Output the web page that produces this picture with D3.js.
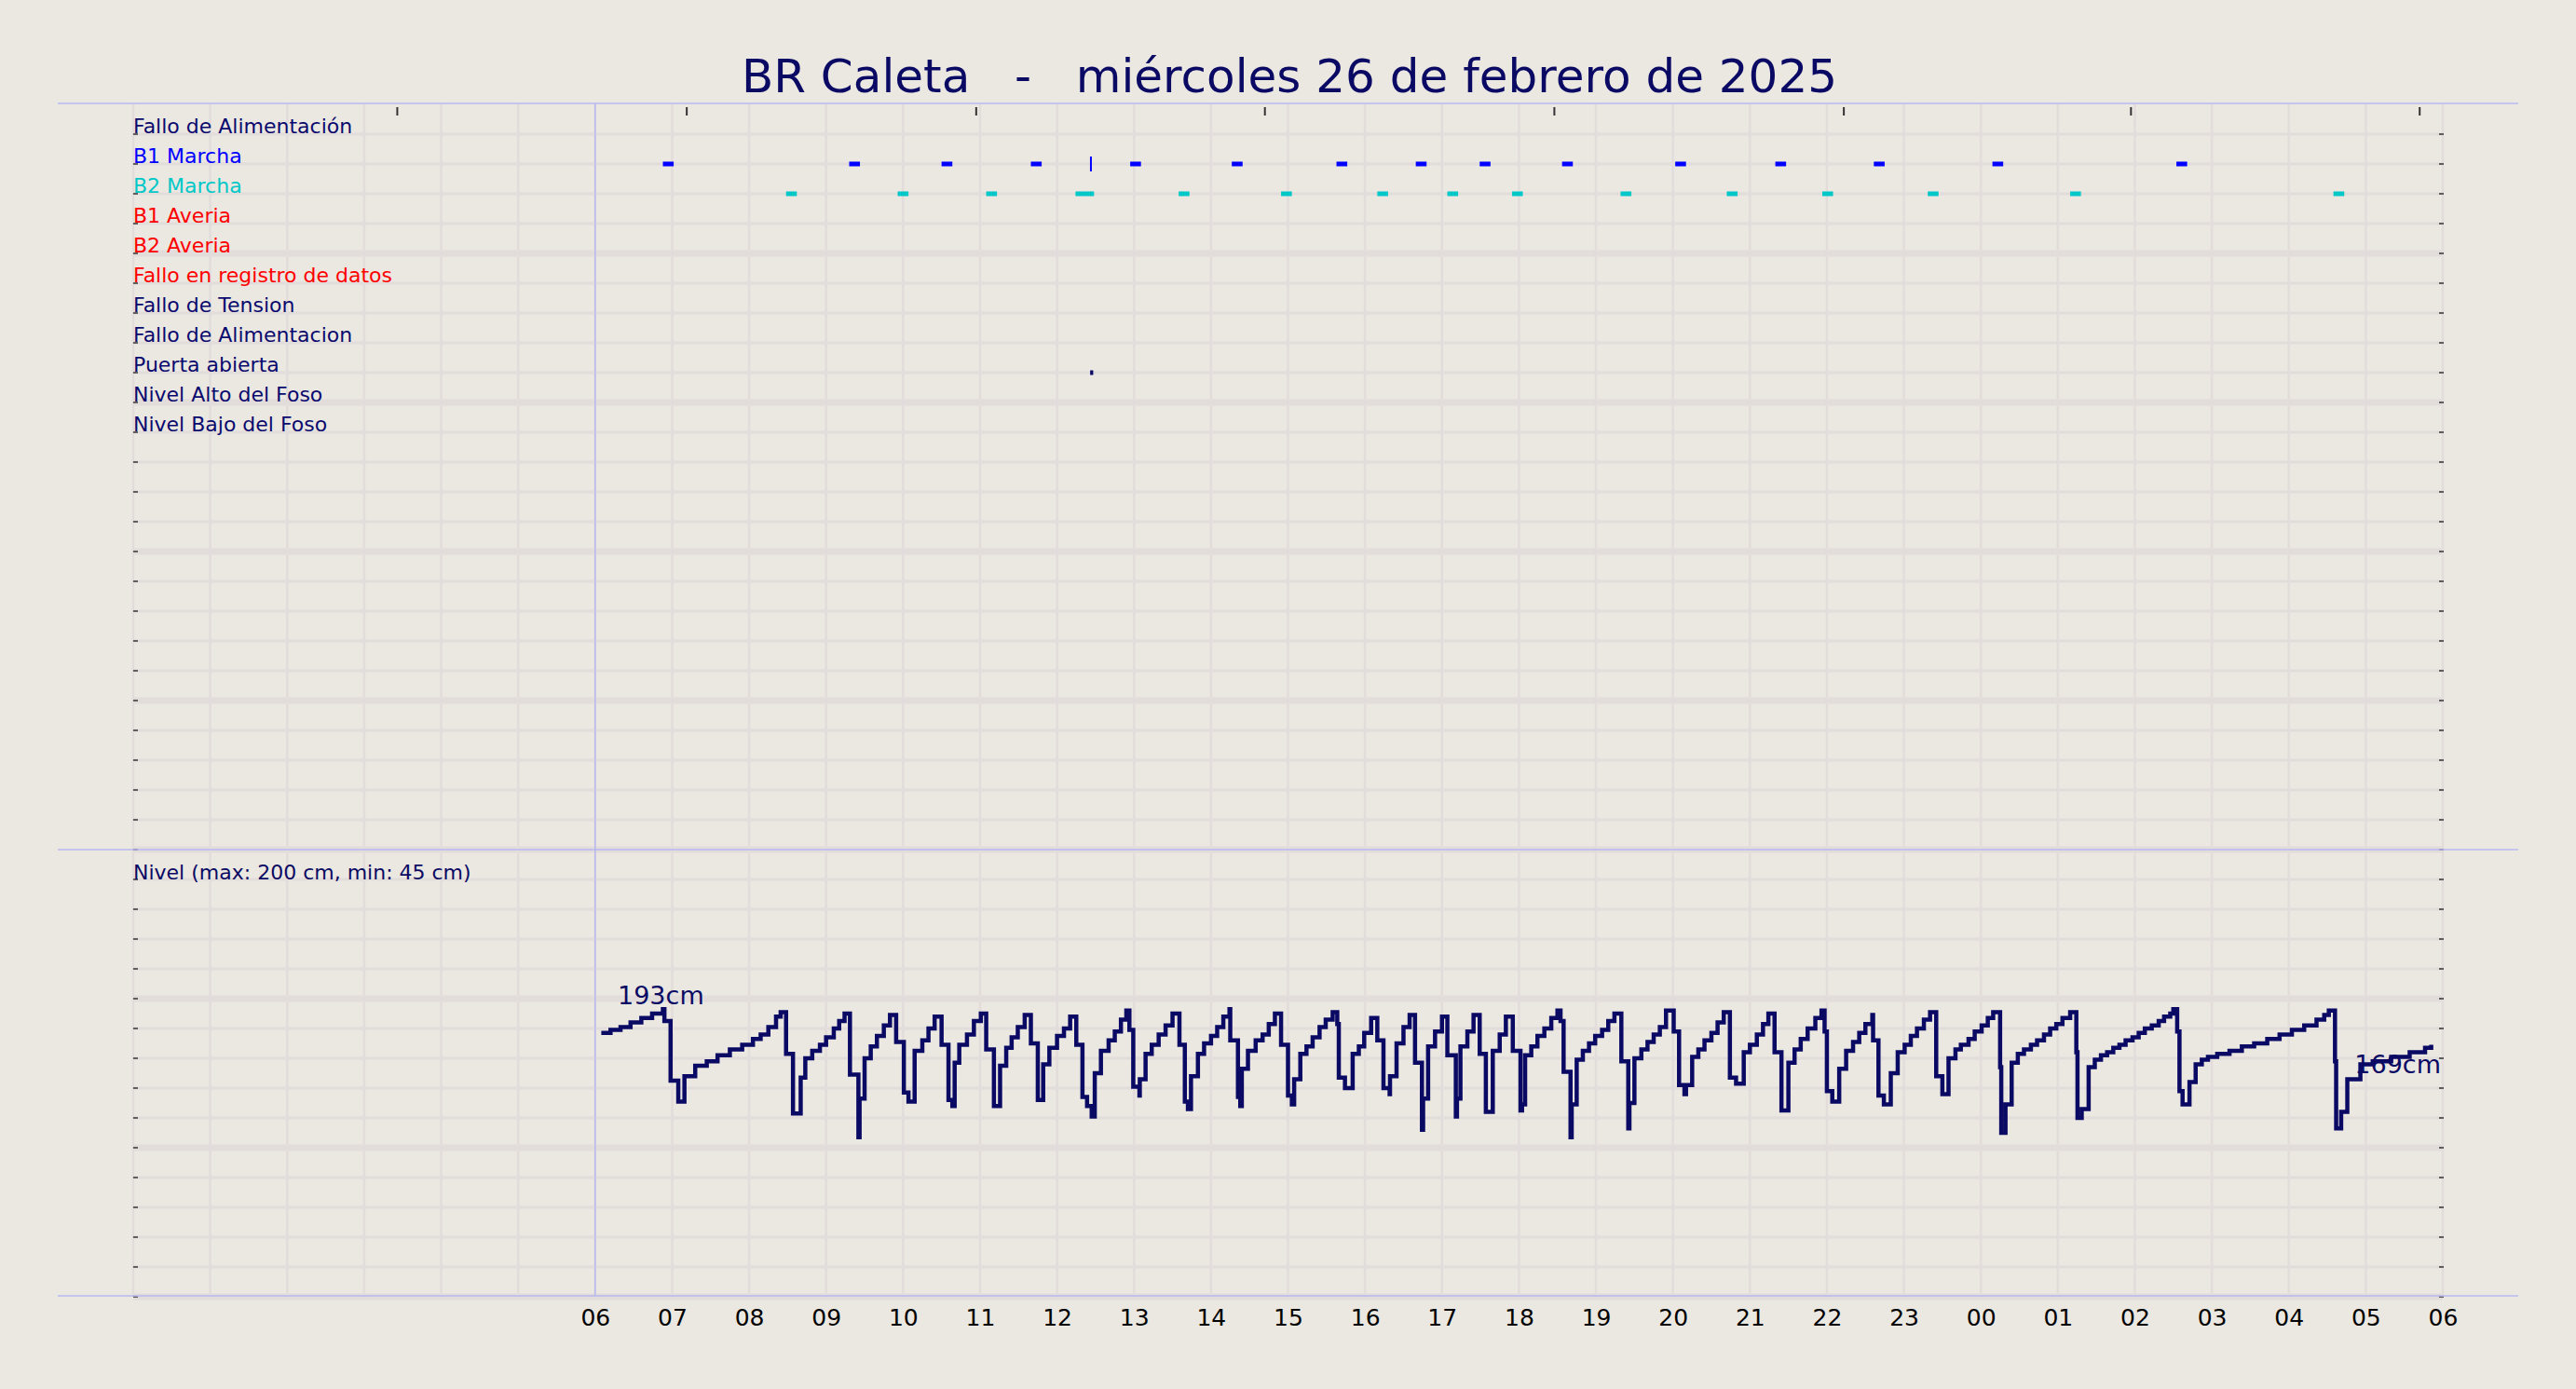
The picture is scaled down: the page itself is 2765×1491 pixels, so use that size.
<!DOCTYPE html>
<html><head><meta charset="utf-8">
<script src="https://cdn.jsdelivr.net/npm/d3@7"></script>
<style>html,body{margin:0;padding:0;background:#ebe7e1;}svg{display:block;font-family:"DejaVu Sans",sans-serif;}</style>
</head><body><svg id="c" width="2765" height="1491"></svg>
<script>
const title = "BR Caleta   -   miércoles 26 de febrero de 2025";
const rowLabels = ["Fallo de Alimentación","B1 Marcha","B2 Marcha","B1 Averia","B2 Averia","Fallo en registro de datos","Fallo de Tension","Fallo de Alimentacion","Puerta abierta","Nivel Alto del Foso","Nivel Bajo del Foso"];
const rowColors = ["#0a0a6e","#0000ff","#00c8c8","#ff0000","#ff0000","#ff0000","#0a0a6e","#0a0a6e","#0a0a6e","#0a0a6e","#0a0a6e"];
const xTickLabels = ["06","07","08","09","10","11","12","13","14","15","16","17","18","19","20","21","22","23","00","01","02","03","04","05","06"];
const topTickHours = [3.43,7.19,10.95,14.70,18.46,22.22,25.95,29.70];
const b1Starts = [6.88,9.30,10.50,11.66,12.95,14.27,15.63,16.66,17.49,18.56,20.03,21.33,22.61,24.15,26.54];
const b1Durs   = [0.14,0.14,0.14,0.14,0.14,0.14,0.14,0.14,0.14,0.14,0.14,0.14,0.14,0.14,0.14];
const b1Pulse = [12.44];
const b2Starts = [8.48,9.93,11.08,12.24,13.58,14.91,16.16,17.07,17.91,19.32,20.70,21.94,23.31,25.16,28.58];
const b2Durs   = [0.14,0.14,0.14,0.24,0.14,0.14,0.14,0.14,0.14,0.14,0.14,0.14,0.14,0.14,0.14];
const puertaStarts = [12.43];
const puertaDurs = [0.04];
const levelLabel = "Nivel (max: 200 cm, min: 45 cm)";
const levelMaxLabel = "193cm", levelEndLabel = "169cm";
const levelHours = [6.08,6.20,6.33,6.46,6.60,6.74,6.88,6.90,6.98,7.08,7.16,7.30,7.45,7.59,7.75,7.91,8.05,8.15,8.25,8.35,8.41,
8.48,8.57,8.67,8.73,8.82,8.92,9.00,9.10,9.17,9.24,9.31,9.42,9.435,9.50,9.58,9.66,9.75,9.83,
9.91,10.01,10.07,10.15,10.25,10.33,10.41,10.50,10.59,10.64,10.67,10.73,10.83,10.92,11.01,
11.08,11.18,11.26,11.34,11.41,11.49,11.58,11.66,11.75,11.82,11.90,12.00,12.09,12.17,
12.25,12.33,12.39,12.45,12.49,12.57,12.67,12.75,12.83,12.90,12.94,12.99,13.07,13.075,13.15,13.23,13.32,13.41,13.50,
13.59,13.66,13.70,13.74,13.83,13.91,14.00,14.08,14.16,14.24,14.25,14.35,14.38,14.40,14.48,14.58,14.67,14.75,14.83,
14.91,15.00,15.05,15.08,15.16,15.24,15.32,15.41,15.49,15.58,15.64,15.66,15.74,15.84,15.92,15.99,16.08,
16.16,16.24,16.32,16.325,16.41,16.50,16.58,16.65,16.74,16.755,16.82,16.91,17.00,
17.07,17.18,17.195,17.24,17.33,17.41,17.49,17.57,17.63,17.66,17.75,17.83,
17.92,18.02,18.04,18.08,18.16,18.24,18.33,18.42,18.50,18.54,18.58,18.67,18.685,18.75,18.83,18.91,18.99,19.08,19.16,19.24,
19.33,19.42,19.435,19.50,19.59,19.67,19.75,19.83,19.91,20.01,
20.08,20.15,20.17,20.25,20.33,20.41,20.50,20.58,20.66,20.74,20.82,20.92,21.00,21.09,21.17,21.24,
21.32,21.41,21.50,21.58,21.66,21.75,21.85,21.93,21.97,22.00,22.07,22.16,22.25,22.34,22.42,22.50,22.59,
22.60,22.67,22.74,22.83,22.92,23.01,23.09,23.17,23.26,23.34,23.42,23.50,23.58,23.67,23.74,23.84,23.92,24.01,24.09,
24.16,24.25,24.265,24.32,24.40,24.48,24.56,24.65,24.73,24.82,24.90,24.98,25.06,
25.16,25.24,25.255,25.31,25.40,25.48,25.56,25.64,25.72,25.80,25.88,25.97,26.05,26.13,26.22,26.31,26.38,26.46,
26.50,26.55,26.58,26.62,26.71,26.79,26.87,26.95,27.07,27.23,27.39,27.55,27.72,27.88,28.04,28.20,28.36,28.46,
28.52,28.60,28.615,28.68,28.76,28.93,29.09,29.33,29.57,29.77,29.85];
const levelValues = [177,179,181,184,187,190,193,185,145,131,148,155,158,162,166,169,173,176,181,188,191,
163,123,147,160,165,169,174,180,185,190,149,107,133,160,168,175,182,189,
171,137,131,165,172,180,188,169,132,128,157,169,176,185,190,
166,128,155,167,174,181,189,170,132,156,167,175,180,188,
169,134,128,121,150,165,172,178,186,192,179,141,135,146,163,169,176,182,190,
169,131,126,148,163,170,175,181,188,193,172,134,128,153,165,172,176,183,190,
169,135,129,146,163,168,174,181,186,191,183,147,140,163,168,177,187,
172,140,136,148,170,181,189,157,112,133,168,178,188,
162,121,133,168,178,189,163,124,124,165,176,188,
165,125,129,162,168,175,180,187,192,185,151,107,129,159,165,170,175,179,185,190,
158,113,130,160,166,171,176,181,192,178,
142,136,142,161,166,172,177,184,191,147,143,164,169,176,183,190,
164,125,157,166,173,180,187,192,178,138,131,153,165,171,177,183,189,
172,135,129,150,164,169,175,180,186,191,148,136,160,166,169,173,178,182,187,191,
154,110,129,157,163,166,169,172,176,180,183,187,191,
164,120,126,154,159,162,164,167,169,172,174,177,180,182,185,188,190,193,
178,138,129,144,156,159,161,163,165,168,170,173,176,179,182,186,189,192,
158,113,124,146,156,158,161,164,167,169,169];

const svg = d3.select("#c");
const W = 2765;
const bg = "#ebe7e1", grid = "#e2dcdb", navy = "#0a0a64", edge = "#b8b8f0";
svg.append("rect").attr("width",W).attr("height",1491).attr("fill",bg);

const x = d3.scaleLinear().domain([0,30]).range([143,2622]);
const rowY = d3.scaleLinear().domain([0,1]).range([144,176]);
const yLevel = d3.scaleLinear().domain([0,300]).range([1392,912]);

const g = svg.append("g");
g.selectAll("line.v").data(d3.range(0,31)).join("line")
 .attr("x1",d=>x(d)).attr("x2",d=>x(d)).attr("y1",111).attr("y2",1391)
 .attr("stroke",grid).attr("stroke-width",2.5);
const rows = d3.range(0,40);
g.selectAll("line.h").data(rows).join("line")
 .attr("x1",x(0)).attr("x2",x(30)).attr("y1",d=>rowY(d)).attr("y2",d=>rowY(d))
 .attr("stroke",grid).attr("stroke-width",d=>((d+1)%5===0)?7:3);
g.selectAll("line.rt").data(rows).join("line")
 .attr("x1",x(30)-4).attr("x2",x(30)+1).attr("y1",d=>rowY(d)).attr("y2",d=>rowY(d))
 .attr("stroke","#333").attr("stroke-width",1.5);
g.selectAll("line.lt").data(rows).join("line")
 .attr("x1",x(0)).attr("x2",x(0)+5).attr("y1",d=>rowY(d)).attr("y2",d=>rowY(d))
 .attr("stroke","#333").attr("stroke-width",1.5);
g.selectAll("line.tt").data(topTickHours).join("line")
 .attr("x1",d=>x(d)).attr("x2",d=>x(d)).attr("y1",115).attr("y2",124)
 .attr("stroke","#333").attr("stroke-width",2);
[111,912,1391].forEach(yy=>svg.append("line").attr("x1",62).attr("x2",2703).attr("y1",yy).attr("y2",yy).attr("stroke",edge).attr("stroke-width",1.5));
svg.append("line").attr("x1",x(6)).attr("x2",x(6)).attr("y1",111).attr("y2",1391).attr("stroke",edge).attr("stroke-width",1.5);

svg.append("text").attr("x",1384).attr("y",99).attr("text-anchor","middle").attr("font-size",50)
 .attr("fill","#0a0a64").style("white-space","pre").text(title);

svg.selectAll("text.rl").data(rowLabels).join("text")
 .attr("x",143).attr("y",(d,i)=>rowY(i)-1).attr("font-size",22).attr("fill",(d,i)=>rowColors[i]).text(d=>d);

function bars(starts,durs,row,color,h){
  svg.append("g").selectAll("rect").data(starts).join("rect")
   .attr("x",d=>x(d)).attr("width",(d,i)=>Math.max(3,x(d+durs[i])-x(d)))
   .attr("y",rowY(row)-h/2).attr("height",h).attr("fill",color);
}
bars(b1Starts,b1Durs,1,"#0000ff",5);
bars(b2Starts,b2Durs,2,"#00c8c8",5);
bars(puertaStarts,puertaDurs,8,"#0a0a64",5);
svg.append("g").selectAll("line").data(b1Pulse).join("line")
 .attr("x1",d=>x(d)).attr("x2",d=>x(d)).attr("y1",rowY(1)-8).attr("y2",rowY(1)+8)
 .attr("stroke","#0000ff").attr("stroke-width",2);

svg.append("text").attr("x",143).attr("y",944).attr("font-size",22).attr("fill","#0a0a64").text(levelLabel);
const pts = levelHours.map((h,i)=>[h,levelValues[i]]);
const line = d3.line().x(d=>x(d[0])).y(d=>yLevel(d[1])).curve(d3.curveStepAfter);
svg.append("path").attr("d",line(pts)).attr("fill","none").attr("stroke",navy).attr("stroke-width",4.5);
svg.append("text").attr("x",663).attr("y",1078).attr("font-size",27).attr("fill","#0a0a64").text(levelMaxLabel);
svg.append("text").attr("x",2620).attr("y",1152).attr("text-anchor","end").attr("font-size",27).attr("fill","#0a0a64").text(levelEndLabel);

const xa = d3.axisBottom(x).tickValues(d3.range(6,31)).tickFormat((d,i)=>xTickLabels[i]).tickSize(0).tickPadding(14);
const ax = svg.append("g").attr("transform","translate(0,1391)").call(xa);
ax.select(".domain").remove();
ax.selectAll("text").attr("font-size",25).attr("fill","#000").attr("font-family","DejaVu Sans");
</script></body></html>
